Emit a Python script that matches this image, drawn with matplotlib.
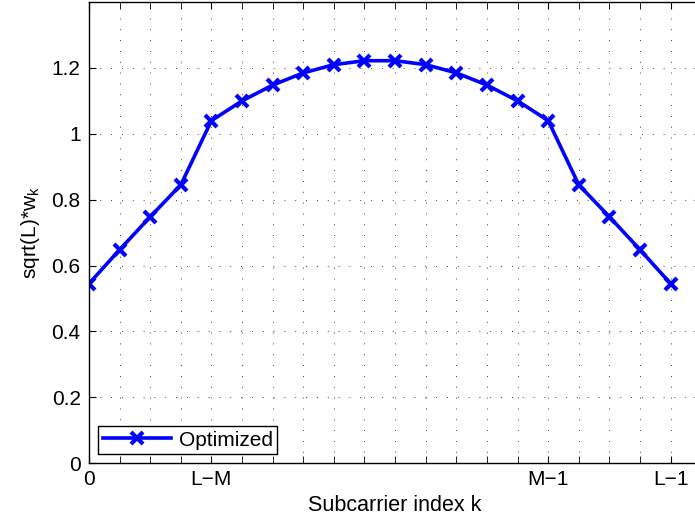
import numpy as np
import matplotlib.pyplot as plt

plt.rcParams['font.family'] = ['Liberation Sans', 'DejaVu Sans']
plt.rcParams['mathtext.fontset'] = 'custom'
plt.rcParams['mathtext.rm'] = 'Liberation Sans'
plt.rcParams['mathtext.it'] = 'Liberation Sans'

# Data: L = 20 subcarriers, M = 16
k = np.arange(20)
w = [0.545, 0.648, 0.748, 0.845, 1.040, 1.100, 1.148, 1.185, 1.210, 1.222,
     1.222, 1.210, 1.185, 1.148, 1.100, 1.040, 0.845, 0.748, 0.648, 0.545]
xtick_pos = [0, 4, 15, 19]
xtick_labels = ['0', 'L\u2212M', 'M\u22121', 'L\u22121']
ytick_pos = [0, 0.2, 0.4, 0.6, 0.8, 1.0, 1.2]
ytick_labels = ['0', '0.2', '0.4', '0.6', '0.8', '1', '1.2']

fig = plt.figure(figsize=(6.95, 5.21), dpi=100)
ax = fig.add_axes([0.128, 0.111, 0.881, 0.885])

ax.plot(k, w, color='blue', lw=2.6, marker='x', markersize=8,
        markeredgewidth=3, label='Optimized')

ax.set_xlim(0, 20)
ax.set_ylim(0, 1.4)
ax.set_xticks(xtick_pos)
ax.set_xticklabels(xtick_labels)
ax.set_xticks(k, minor=True)
ax.set_yticks(ytick_pos)
ax.set_yticklabels(ytick_labels)

ax.tick_params(which='both', direction='in', top=True, right=True,
               labelsize=15)
ax.tick_params(axis='y', pad=6)
ax.tick_params(axis='x', pad=5)
ax.tick_params(which='major', length=5)
ax.tick_params(which='minor', length=5)

dots = (0, (1, 12))
ax.grid(True, which='minor', axis='x', color='black', lw=0.6, linestyle=dots)
ax.grid(True, which='major', axis='x', color='black', lw=0.6, linestyle=dots)
ax.grid(True, which='major', axis='y', color='black', lw=0.6, linestyle=dots)
ax.set_axisbelow(True)

for s in ax.spines.values():
    s.set_linewidth(1.0)

ax.set_xlabel('Subcarrier index k', fontsize=15.5, labelpad=4)
ax.set_ylabel('sqrt(L)*w$_\\mathregular{k}$', fontsize=15, labelpad=7)

leg = ax.legend(loc='lower left', fontsize=15, fancybox=False,
                edgecolor='black', framealpha=1, borderaxespad=0.45,
                handlelength=3.3, borderpad=0.2, handletextpad=0.35)
leg.get_frame().set_linewidth(1.0)

fig.savefig('out.png', dpi=100)
